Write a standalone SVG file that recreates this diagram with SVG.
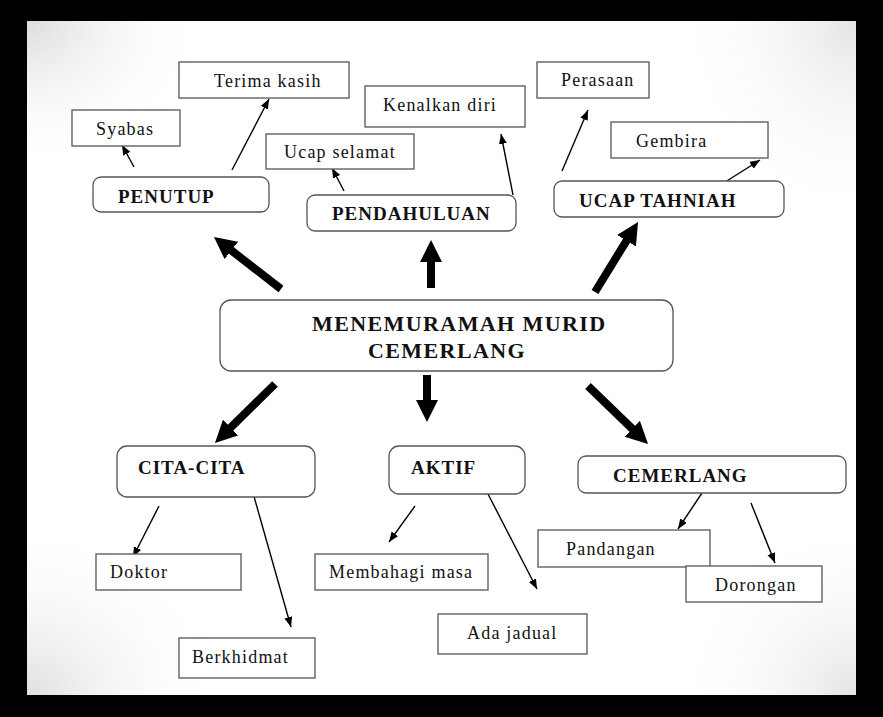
<svg xmlns="http://www.w3.org/2000/svg" width="883" height="717" viewBox="0 0 883 717">
<style>
.bx{fill:#fff;stroke:#555;stroke-width:1.3}
.rb{fill:#fff;stroke:#555;stroke-width:1.3}
.t{font-family:"Liberation Serif","Times New Roman",serif;font-size:18px;fill:#111;letter-spacing:1.2px}
.b{font-family:"Liberation Serif","Times New Roman",serif;font-size:19px;font-weight:bold;fill:#111;letter-spacing:1px}
.m{font-family:"Liberation Serif","Times New Roman",serif;font-size:22px;font-weight:bold;fill:#111;letter-spacing:1.4px}
.thin{stroke:#000;stroke-width:1.4;fill:none;marker-end:url(#ah)}
.thick{stroke:#000;stroke-width:8;fill:none;marker-end:url(#AH)}
</style>
<defs>
<marker id="ah" markerUnits="userSpaceOnUse" markerWidth="11" markerHeight="9" refX="10" refY="4" orient="auto"><path d="M0,0 L10,4 L0,8 z" fill="#000"/></marker>
<marker id="AH" markerUnits="userSpaceOnUse" markerWidth="24" markerHeight="24" refX="4" refY="11" orient="auto"><path d="M0,0 L22,11 L0,22 z" fill="#000"/></marker>
<radialGradient id="gTL" cx="0" cy="0" r="1"><stop offset="0" stop-color="#dcdcdc"/><stop offset="1" stop-color="#fff" stop-opacity="0"/></radialGradient>
<radialGradient id="gTR" cx="1" cy="0" r="1"><stop offset="0" stop-color="#e4e4e4"/><stop offset="1" stop-color="#fff" stop-opacity="0"/></radialGradient>
<radialGradient id="gBL" cx="0" cy="1" r="1"><stop offset="0" stop-color="#e0e0e0"/><stop offset="1" stop-color="#fff" stop-opacity="0"/></radialGradient>
<radialGradient id="gBR" cx="1" cy="1" r="1"><stop offset="0" stop-color="#e4e4e4"/><stop offset="1" stop-color="#fff" stop-opacity="0"/></radialGradient>
</defs>
<rect x="0" y="0" width="883" height="717" fill="#000"/>
<rect x="27" y="21" width="829" height="674" fill="#fff"/>
<rect x="27" y="21" width="180" height="150" fill="url(#gTL)"/>
<rect x="676" y="21" width="180" height="200" fill="url(#gTR)"/>
<rect x="27" y="520" width="200" height="175" fill="url(#gBL)"/>
<rect x="676" y="520" width="180" height="175" fill="url(#gBR)"/>

<g id="connectors">
<line class="thick" x1="281" y1="289" x2="228.2" y2="248"/>
<line class="thick" x1="431" y1="288" x2="431" y2="258"/>
<line class="thick" x1="595" y1="292" x2="628.6" y2="237.3"/>
<line class="thick" x1="275" y1="384" x2="227.8" y2="430.4"/>
<line class="thick" x1="427" y1="375" x2="427" y2="404"/>
<line class="thick" x1="588" y1="386" x2="635.1" y2="431.5"/>
<line class="thin" x1="134" y1="167" x2="122" y2="145"/>
<line class="thin" x1="232" y1="170" x2="269" y2="99"/>
<line class="thin" x1="344" y1="191" x2="332" y2="168"/>
<line class="thin" x1="513" y1="195" x2="501" y2="134"/>
<line class="thin" x1="562" y1="171" x2="588" y2="110"/>
<line class="thin" x1="722" y1="184" x2="760" y2="160"/>
<line class="thin" x1="159" y1="506" x2="133" y2="557"/>
<line class="thin" x1="253" y1="493" x2="291" y2="627"/>
<line class="thin" x1="415" y1="506" x2="389" y2="542"/>
<line class="thin" x1="488" y1="494" x2="537" y2="589"/>
<line class="thin" x1="702" y1="493" x2="678" y2="529"/>
<line class="thin" x1="751" y1="503" x2="775" y2="563"/>
</g>

<g id="n-main"><rect class="rb" x="220" y="300" width="453" height="71" rx="11"/><text class="m" x="312" y="331">MENEMURAMAH MURID</text><text class="m" x="368" y="358">CEMERLANG</text></g>
<g id="n-penutup"><rect class="rb" x="93" y="177" width="176" height="35" rx="8"/><text class="b" x="118" y="203">PENUTUP</text></g>
<g id="n-terima"><rect class="bx" x="179" y="62" width="170" height="36"/><text class="t" x="214" y="87">Terima kasih</text></g>
<g id="n-syabas"><rect class="bx" x="72" y="110" width="108" height="36"/><text class="t" x="96" y="135">Syabas</text></g>
<g id="n-pendahuluan"><rect class="rb" x="307" y="195" width="209" height="36" rx="8"/><text class="b" x="332" y="220">PENDAHULUAN</text></g>
<g id="n-ucap"><rect class="bx" x="266" y="134" width="148" height="35"/><text class="t" x="284" y="158">Ucap selamat</text></g>
<g id="n-kenal"><rect class="bx" x="365" y="86" width="160" height="41"/><text class="t" x="383" y="111">Kenalkan diri</text></g>
<g id="n-tahniah"><rect class="rb" x="554" y="181" width="230" height="36" rx="8"/><text class="b" x="579" y="207">UCAP TAHNIAH</text></g>
<g id="n-perasaan"><rect class="bx" x="537" y="62" width="112" height="36"/><text class="t" x="561" y="86">Perasaan</text></g>
<g id="n-gembira"><rect class="bx" x="611" y="122" width="157" height="36"/><text class="t" x="636" y="147">Gembira</text></g>
<g id="n-cita"><rect class="rb" x="117" y="446" width="198" height="51" rx="10"/><text class="b" x="138" y="474">CITA-CITA</text></g>
<g id="n-doktor"><rect class="bx" x="96" y="554" width="145" height="36"/><text class="t" x="110" y="578">Doktor</text></g>
<g id="n-berkhidmat"><rect class="bx" x="179" y="638" width="136" height="40"/><text class="t" x="192" y="663">Berkhidmat</text></g>
<g id="n-aktif"><rect class="rb" x="389" y="446" width="136" height="48" rx="10"/><text class="b" x="411" y="474">AKTIF</text></g>
<g id="n-membahagi"><rect class="bx" x="315" y="554" width="173" height="36"/><text class="t" x="329" y="578">Membahagi masa</text></g>
<g id="n-jadual"><rect class="bx" x="438" y="614" width="149" height="40"/><text class="t" x="467" y="639">Ada jadual</text></g>
<g id="n-cemerlang"><rect class="rb" x="578" y="456" width="268" height="37" rx="8"/><text class="b" x="613" y="482">CEMERLANG</text></g>
<g id="n-pandangan"><rect class="bx" x="538" y="530" width="172" height="37"/><text class="t" x="566" y="555">Pandangan</text></g>
<g id="n-dorongan"><rect class="bx" x="686" y="566" width="136" height="36"/><text class="t" x="715" y="591">Dorongan</text></g>
</svg>
